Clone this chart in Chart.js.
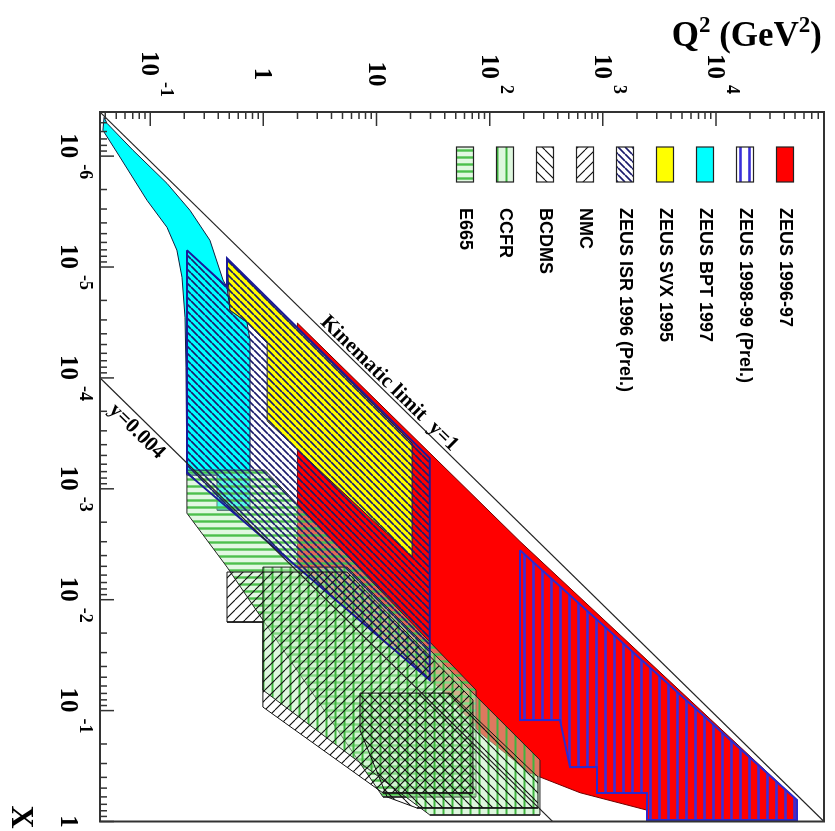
<!DOCTYPE html>
<html>
<head>
<meta charset="utf-8">
<script src="https://cdn.jsdelivr.net/npm/chart.js@4.4.1/dist/chart.umd.min.js"></script>
<style>
  html, body { margin: 0; padding: 0; background: #fff; }
  #wrap { position: relative; width: 835px; height: 831px; overflow: hidden; }
  /* the figure is drawn upright (x along the bottom) and turned a quarter turn, like the scan */
  #plane { position: absolute; left: 0; top: 0; transform-origin: 0 0; transform: translate(835px, 0) rotate(90deg); }
</style>
</head>
<body>
<div id="wrap"><canvas id="plane" width="831" height="835"></canvas></div>
<script>
// axis ranges (x, Q2 in GeV^2); s = 9e4 GeV^2 so the y=1 line runs corner to corner
const S = 9e4;
const xRange = [4e-7, 1];
const q2Range = [0.036, 9e4];

const xTicks = [1e-6, 1e-5, 1e-4, 1e-3, 1e-2, 1e-1, 1];
const xTickText = [['10', '-6'], ['10', '-5'], ['10', '-4'], ['10', '-3'], ['10', '-2'], ['10', '-1'], ['1', '']];
const q2Ticks = [0.1, 1, 10, 100, 1000, 10000];
const q2TickText = [['10', '-1'], ['1', ''], ['10', ''], ['10', '2'], ['10', '3'], ['10', '4']];

// regions, [x, Q2] corners
const zeus9697 = [[3.2e-5, 2.0], [2.98e-3, 185], [0.64, 51900], [0.97, 51900], [0.97, 2455], [0.79, 2455],
  [0.55, 628], [0.366, 227], [0.159, 82.4], [0.075, 44.6], [0.053, 29.6], [5.08e-3, 2.0], [3.2e-5, 2.0]];
const zeus9899 = [[3.57e-3, 185], [0.64, 51900], [0.97, 51900], [0.97, 2455], [0.553, 2455], [0.553, 887],
  [0.323, 887], [0.323, 512], [0.1217, 418], [0.1217, 185], [3.57e-3, 185]];
const bpt97 = [[4.47e-7, 0.0391], [5.06e-7, 0.0415], [8.85e-7, 0.0704], [1.76e-6, 0.1406], [3.08e-6, 0.2245],
  [5.74e-6, 0.337], [1.31e-5, 0.44], [1.52e-5, 0.477], [2.45e-5, 0.507], [3.15e-5, 0.716], [4.57e-5, 0.762],
  [1.56e-3, 0.762], [1.56e-3, 0.389], [7.53e-4, 0.389], [7.53e-4, 0.211], [8.0e-5, 0.207], [2.84e-5, 0.203],
  [1.24e-5, 0.191], [7.05e-6, 0.172], [4.38e-6, 0.1406], [2.5e-6, 0.0936], [1.02e-6, 0.054], [5.85e-7, 0.0382],
  [4.47e-7, 0.0391]];
const svx95 = [[8.34e-6, 0.477], [3.87e-4, 20.6], [4.13e-3, 20.6], [2.45e-4, 1.08], [4.86e-5, 1.08],
  [3.15e-5, 0.716], [2.45e-5, 0.507], [8.34e-6, 0.477]];
const isr96 = [[7.05e-6, 0.211], [1.52e-5, 0.477], [8.34e-6, 0.477], [5.3e-4, 29.6], [0.053, 29.6],
  [7.2e-4, 0.211], [7.05e-6, 0.211]];
const nmc = [[5.63e-3, 0.477], [5.63e-3, 5.48], [0.0803, 71.1], [0.553, 71.1], [0.553, 11.4], [0.0929, 0.99],
  [0.0159, 0.99], [0.0159, 0.477], [5.63e-3, 0.477]];
const bcdms = [[0.0695, 7.14], [0.0695, 44.6], [0.397, 267], [0.755, 267], [0.755, 22.7], [0.601, 12.4],
  [0.150, 7.14], [0.0695, 7.14]];
const ccfr = [[5.08e-3, 0.99], [5.08e-3, 5.48], [0.279, 278], [0.874, 278], [0.874, 29.6], [0.0653, 0.99],
  [5.08e-3, 0.99]];
const e665 = [[6.79e-4, 0.211], [6.79e-4, 1.03], [0.0653, 75.7], [0.601, 75.7], [0.601, 11.4], [5.08e-3, 0.477],
  [1.66e-3, 0.211], [6.79e-4, 0.211]];

const kinLimit = [[4e-7, 0.036], [1, 9e4]];
const yCut = [[1e-4, 0.036], [1, 360]];
const kinTextAt = 3.35e-5;   // x where the "Kinematic limit" text starts
const yCutTextAt = 1.52e-4;  // x where the "y=0.004" text starts

const cv = document.getElementById('plane');
const ctx0 = cv.getContext('2d');

function hatch(dir, color, lw, s, bg) {
  const c = document.createElement('canvas');
  c.width = s; c.height = s;
  const g = c.getContext('2d');
  if (bg) { g.fillStyle = bg; g.fillRect(0, 0, s, s); }
  g.strokeStyle = color; g.lineWidth = lw;
  g.beginPath();
  if (dir === 'h') { g.moveTo(0, s / 2); g.lineTo(s, s / 2); }
  else if (dir === 'v') { g.moveTo(s / 2, 0); g.lineTo(s / 2, s); }
  else if (dir === '/') { for (const c0 of [-s, 0, s]) { g.moveTo(c0, s); g.lineTo(c0 + s, 0); } }
  else { for (const c0 of [-s, 0, s]) { g.moveTo(c0, 0); g.lineTo(c0 + s, s); } }
  g.stroke();
  return ctx0.createPattern(c, 'repeat');
}

// hatch directions are for the upright canvas (they look turned in the final picture)
const fills = {
  zeus9697: '#ff0000',
  zeus9899: hatch('h', '#3a2fd8', 2.6, 9, null),
  bpt97: '#00ffff',
  svx95: '#ffff00',
  isr96: hatch('/', '#1c1c6c', 1.6, 7, null),
  nmc: hatch('\\', '#111', 1.2, 10, null),
  bcdms: hatch('/', '#111', 1.2, 10, null),
  ccfr: hatch('h', '#3fb43f', 2, 9, 'rgba(190,240,190,0.5)'),
  e665: hatch('v', '#4cc04c', 2.4, 7, 'rgba(190,240,190,0.45)')
};

const toXY = pts => pts.map(([x, q]) => ({ x, y: q }));
function area(label, pts, bg, line, lw, order) {
  return { label, data: toXY(pts), backgroundColor: bg, borderColor: line, borderWidth: lw,
    fill: 'shape', pointRadius: 0, tension: 0, order };
}
function curve(pts, order) {
  return { label: '', data: toXY(pts), borderColor: '#222', borderWidth: 1.2, fill: false, pointRadius: 0, order };
}

const legendItems = [
  ['ZEUS 1996-97', fills.zeus9697], ['ZEUS 1998-99 (Prel.)', fills.zeus9899], ['ZEUS BPT 1997', fills.bpt97],
  ['ZEUS SVX 1995', fills.svx95], ['ZEUS ISR 1996 (Prel.)', fills.isr96], ['NMC', fills.nmc],
  ['BCDMS', fills.bcdms], ['CCFR', fills.ccfr], ['E665', fills.e665]
];

const decor = {
  id: 'decor',
  afterDraw(chart) {
    const { ctx, chartArea: a } = chart;
    const xs = chart.scales.x, ys = chart.scales.y;
    ctx.save();

    // frame and inward ticks on the x and Q2 axes
    ctx.strokeStyle = '#333';
    ctx.lineWidth = 2;
    ctx.strokeRect(a.left, a.top, a.right - a.left, a.bottom - a.top);
    ctx.lineWidth = 1.5;
    ctx.beginPath();
    for (let e = -7; e <= 5; e++) {
      for (let k = 1; k <= 9; k++) {
        const v = k * Math.pow(10, e);
        const len = k === 1 ? 14 : 7;
        if (v >= xRange[0] * 0.999 && v <= xRange[1] * 1.001) {
          const px = xs.getPixelForValue(v);
          ctx.moveTo(px, a.bottom); ctx.lineTo(px, a.bottom - len);
        }
        if (v >= q2Range[0] * 0.999 && v <= q2Range[1] * 1.001) {
          const py = ys.getPixelForValue(v);
          ctx.moveTo(a.left, py); ctx.lineTo(a.left + len, py);
        }
      }
    }
    ctx.stroke();

    // tick labels, 10 with a raised exponent
    ctx.fillStyle = '#000';
    ctx.textAlign = 'left';
    ctx.textBaseline = 'alphabetic';
    const big = 'bold 25px "Liberation Serif"', small = 'bold 18px "Liberation Serif"';
    const power = (lbl, cx, base) => {
      ctx.font = big;
      const w1 = ctx.measureText(lbl[0]).width;
      ctx.font = small;
      const w2 = lbl[1] ? ctx.measureText(lbl[1]).width : 0;
      const gap = lbl[1] ? 6 : 0;
      const x0 = cx - (w1 + gap + w2) / 2;
      ctx.font = big;
      ctx.fillText(lbl[0], x0, base);
      if (lbl[1]) { ctx.font = small; ctx.fillText(lbl[1], x0 + w1 + gap, base - 19); }
    };
    xTicks.forEach((v, i) => power(xTickText[i], xs.getPixelForValue(v), a.bottom + 39));
    q2Ticks.forEach((v, i) => power(q2TickText[i], 74, ys.getPixelForValue(v) + 8));

    // axis titles
    ctx.font = 'bold 32px "Liberation Serif"';
    ctx.textAlign = 'center';
    ctx.fillText('X', 817, 823);

    ctx.textAlign = 'left';
    const runs = [['Q', 0], ['2', 1], [' (GeV', 0], ['2', 1], [')', 0]];
    const tf = ['bold 35px "Liberation Serif"', 'bold 23px "Liberation Serif"'];
    let tw = 0;
    runs.forEach(r => { ctx.font = tf[r[1]]; tw += ctx.measureText(r[0]).width; });
    ctx.save();
    ctx.translate(46, a.top + 2 + tw);
    ctx.rotate(-Math.PI / 2);
    let tx = 0;
    runs.forEach(r => {
      ctx.font = tf[r[1]];
      ctx.fillText(r[0], tx, r[1] ? -14 : 0);
      tx += ctx.measureText(r[0]).width;
    });
    ctx.restore();

    // texts along the two lines
    const along = (x, q, x2, q2, text, base, dy) => {
      const p0 = [xs.getPixelForValue(x), ys.getPixelForValue(q)];
      const p1 = [xs.getPixelForValue(x2), ys.getPixelForValue(q2)];
      ctx.save();
      ctx.translate(p0[0], p0[1]);
      ctx.rotate(Math.atan2(p1[1] - p0[1], p1[0] - p0[0]));
      ctx.font = 'bold 21px "Liberation Serif"';
      ctx.textBaseline = base;
      ctx.fillText(text, 0, dy);
      ctx.restore();
    };
    along(kinTextAt, S * kinTextAt, 1, S, 'Kinematic limit  y=1', 'alphabetic', -3);
    along(yCutTextAt, 0.004 * S * yCutTextAt, 1, 0.004 * S, 'y=0.004', 'top', 2);

    // legend
    ctx.textBaseline = 'middle';
    legendItems.forEach(([name, fill], i) => {
      const vc = 50 + 40 * i;
      ctx.fillStyle = '#fff';
      ctx.fillRect(147, vc - 8.5, 35, 17);
      ctx.fillStyle = fill;
      ctx.fillRect(147, vc - 8.5, 35, 17);
      ctx.strokeStyle = '#222';
      ctx.lineWidth = 1.2;
      ctx.strokeRect(147, vc - 8.5, 35, 17);
      ctx.fillStyle = '#000';
      ctx.font = 'bold 18px "Liberation Sans"';
      ctx.fillText(name, 208, vc);
    });
    ctx.restore();
  }
};

new Chart(cv, {
  type: 'line',
  data: {
    datasets: [
      curve(kinLimit, 0),
      curve(yCut, 0),
      area('BCDMS', bcdms, fills.bcdms, '#111', 1, 1),
      area('NMC', nmc, fills.nmc, '#111', 1, 2),
      area('ZEUS ISR 1996 (Prel.)', isr96, fills.isr96, '#1a1a9a', 2, 3),
      area('CCFR', ccfr, fills.ccfr, '#222', 1, 4),
      area('E665', e665, fills.e665, '#222', 1, 5),
      area('ZEUS SVX 1995', svx95, fills.svx95, '#222', 1, 6),
      area('ZEUS BPT 1997', bpt97, fills.bpt97, '#102040', 1, 7),
      area('ZEUS 1998-99 (Prel.)', zeus9899, fills.zeus9899, '#2a2ad0', 2, 8),
      area('ZEUS 1996-97', zeus9697, fills.zeus9697, '#700000', 1, 9)
    ]
  },
  options: {
    responsive: false,
    animation: false,
    events: [],
    layout: { padding: { top: 11, right: 9.5, bottom: 0, left: 0 } },
    plugins: { legend: { display: false }, tooltip: { enabled: false } },
    scales: {
      x: {
        type: 'logarithmic', min: xRange[0], max: xRange[1],
        ticks: { display: false }, grid: { display: false }, border: { display: false },
        afterFit: s => { s.height = 100; }
      },
      y: {
        type: 'logarithmic', min: q2Range[0], max: q2Range[1],
        ticks: { display: false }, grid: { display: false }, border: { display: false },
        afterFit: s => { s.width = 112; }
      }
    }
  },
  plugins: [decor]
});
</script>
</body>
</html>
